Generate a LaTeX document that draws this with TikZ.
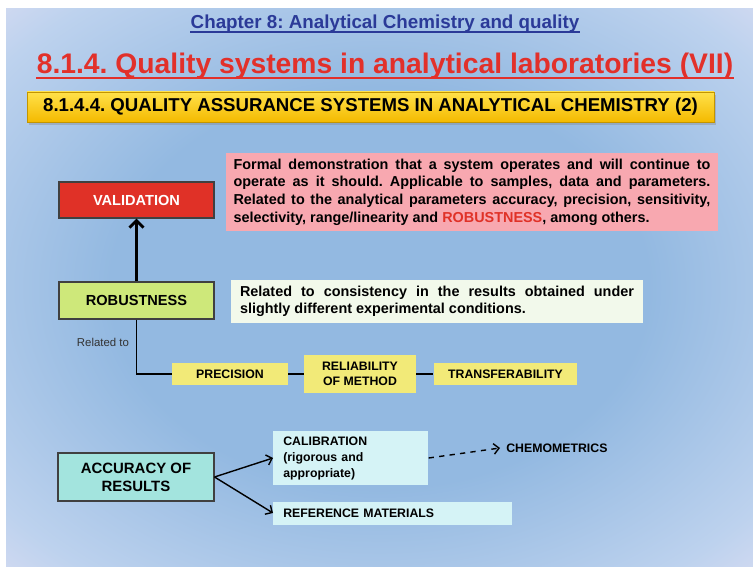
\documentclass[tikz,border=0pt]{standalone}
\usepackage{fontspec}
\setmainfont{Liberation Sans}
\usetikzlibrary{arrows.meta, positioning, shadows}
\definecolor{kapitel}{HTML}{2B3A98}
\definecolor{titelrot}{HTML}{E2302A}
\definecolor{goldhell}{HTML}{FFE14A}
\definecolor{golddunkel}{HTML}{F4BA00}
\definecolor{valrot}{HTML}{E03127}
\definecolor{robgruen}{HTML}{CEE87A}
\definecolor{rosa}{HTML}{F8A8B0}
\definecolor{blassgruen}{HTML}{F2F9EB}
\definecolor{gelb}{HTML}{F2EA78}
\definecolor{tuerkis}{HTML}{A3E4DE}
\definecolor{cyanhell}{HTML}{D5F3F6}
\definecolor{bgblau}{HTML}{93B9E1}
\definecolor{bgmitte}{HTML}{BDD2EE}
\definecolor{bglila}{HTML}{F2E6F6}
\pgfdeclareradialshading{folie}{\pgfpoint{0bp}{0bp}}{%
  color(0bp)=(bgblau); color(18bp)=(bgblau); color(32bp)=(bgmitte);
  color(43bp)=(bglila); color(50bp)=(bglila)}

\begin{document}
\frenchspacing
\begin{tikzpicture}[x=0.02cm, y=-0.02cm,
    kasten/.style={draw=black!75, line width=0.6pt, font=\fontsize{8.3}{10}\selectfont\bfseries,
                   minimum width=3.1cm, align=center},
    gelbbox/.style={fill=gelb, font=\fontsize{7}{8.6}\selectfont\bfseries, minimum height=0.46cm,
                    align=center, inner sep=1pt},
    info/.style={font=\fontsize{8.2}{10}\selectfont\bfseries, align=justify},
    cyanbox/.style={fill=cyanhell, font=\fontsize{7}{9.1}\selectfont\bfseries, align=left,
                    inner xsep=0.2cm, inner ysep=2pt, anchor=west},
    link/.style={line width=0.8pt, black},
    upar/.style={-{Straight Barb[length=4pt, width=8pt]}, line width=1.7pt, black},
    thinar/.style={-{Straight Barb[length=3pt, width=6pt]}, line width=0.8pt, black}
  ]
  \useasboundingbox (0,0) rectangle (753,570);
  \shade[shading=folie] (6,9) rectangle (753,566);

  % titles
  \node[font=\fontsize{10.7}{12}\selectfont\bfseries, text=kapitel, inner sep=0, anchor=base]
    (chap) at (385,29) {Chapter 8: Analytical Chemistry and quality};
  \draw[kapitel, line width=0.9pt] ([yshift=-1.6pt]chap.base west) -- ([yshift=-1.6pt]chap.base east);
  \node[font=\fontsize{16.1}{18}\selectfont\bfseries, text=titelrot, inner sep=0, anchor=base]
    (titel) at (385,74) {8.1.4. Quality systems in analytical laboratories (VII)};
  \draw[titelrot, line width=1.3pt] ([yshift=-2.4pt]titel.base west) -- ([yshift=-2.4pt]titel.base east);
  \node[top color=goldhell, bottom color=golddunkel, draw=golddunkel!80!black, line width=0.4pt,
        drop shadow={shadow xshift=1pt, shadow yshift=-1.5pt, opacity=0.35},
        minimum width=13.74cm, minimum height=0.6cm, inner sep=0,
        font=\fontsize{10.6}{12}\selectfont\bfseries]
    (band) at (370.5,107) {8.1.4.4. QUALITY ASSURANCE SYSTEMS IN ANALYTICAL CHEMISTRY (2)};

  % validation and robustness
  \node[kasten, fill=valrot, text=white, minimum height=0.72cm] (valid) at (136.5,200) {VALIDATION};
  \node[kasten, fill=robgruen, minimum height=0.74cm] (robust) at (136.5,300.5) {ROBUSTNESS};
  \draw[upar] (robust.north) -- (valid.south);

  \node[info, fill=rosa, text width=9.54cm, inner xsep=0.15cm, minimum height=1.56cm]
    (valtext) at (472,192) {\tolerance=9999 Formal demonstration that a system operates and will continue to\linebreak
    operate as it should. Applicable to samples, data and parameters.\linebreak
    Related to the analytical parameters accuracy, precision, sensitivity,\linebreak
    selectivity, range/linearity and \textcolor{valrot}{ROBUSTNESS}, among others.};
  \node[info, fill=blassgruen, text width=7.88cm, inner xsep=0.18cm, minimum height=0.86cm]
    (robtext) at (437,301.5) {\tolerance=9999 Related to consistency in the results obtained under\linebreak
    slightly different experimental conditions.};

  \node[font=\fontsize{6.5}{8}\selectfont, text=black!80] (relto) at (103,342) {Related to};
  \node[gelbbox, minimum width=2.32cm] (prec) at (230,374) {PRECISION};
  \node[gelbbox, minimum width=2.24cm, minimum height=0.76cm] (reliab) at (360,374) {RELIABILITY\\OF METHOD};
  \node[gelbbox, minimum width=2.88cm] (transf) at (505.5,374) {TRANSFERABILITY};
  \draw[link] (robust.south) |- (prec.west);
  \draw[link] (prec.east) -- (reliab.west);
  \draw[link] (reliab.east) -- (transf.west);

  % accuracy
  \node[kasten, fill=tuerkis, minimum width=3.12cm, minimum height=0.96cm,
        font=\fontsize{8.5}{10.2}\selectfont\bfseries] (accur) at (136,477) {ACCURACY OF\\RESULTS};
  \node[cyanbox, text width=2.7cm, minimum height=1.08cm] (calib) at (273,458)
    {CALIBRATION\\(rigorous and\\appropriate)};
  \node[cyanbox, text width=4.38cm, minimum height=0.46cm] (refmat) at (273,513) {REFERENCE MATERIALS};
  \node[font=\fontsize{7}{8.6}\selectfont\bfseries, anchor=west, inner xsep=0.12cm] (chemo) at (500,448) {CHEMOMETRICS};
  \draw[thinar] (accur.east) -- (calib.west);
  \draw[thinar] (accur.east) -- (refmat.west);
  \draw[thinar, dashed] (calib.east) -- (chemo.west);
\end{tikzpicture}
\end{document}
